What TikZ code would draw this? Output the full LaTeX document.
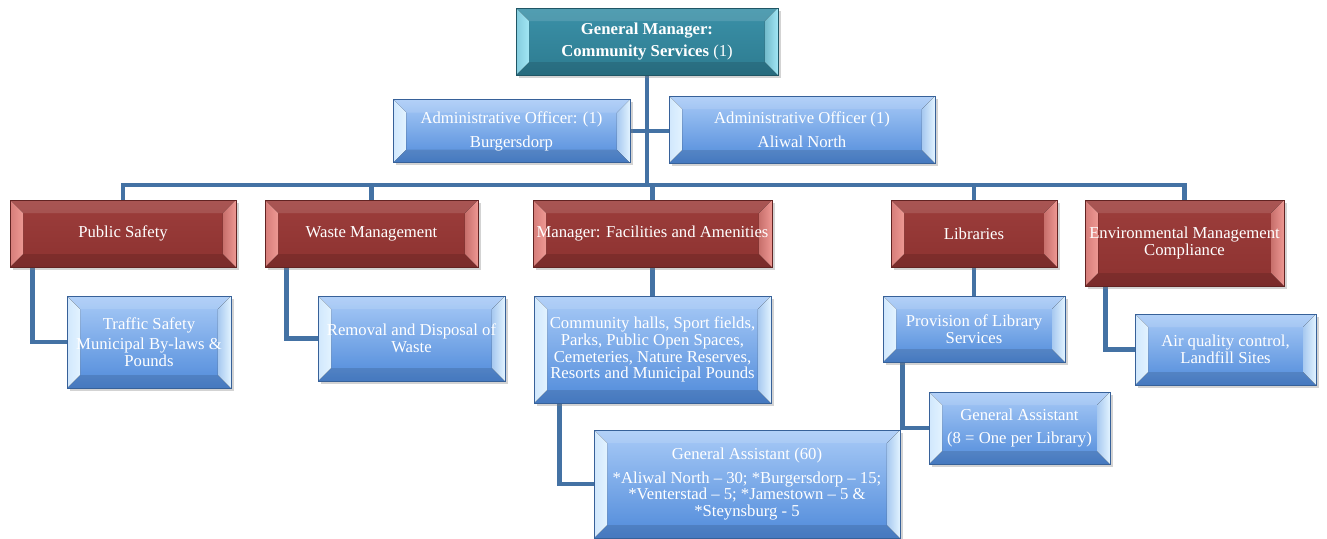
\documentclass[tikz,border=0pt]{standalone}
\usepackage{fontspec}
\setmainfont{Liberation Serif}
\usetikzlibrary{shadows,backgrounds}

\definecolor{linkblue}{HTML}{4472A4}
\definecolor{bluetop}{HTML}{A9CBF7}
\definecolor{bluebot}{HTML}{4F8ADA}
\definecolor{bluebev}{HTML}{E2F3FF}
\definecolor{redtop}{HTML}{9D3E3C}
\definecolor{redbot}{HTML}{8C3230}
\definecolor{redbev}{HTML}{EE9893}
\definecolor{tealtop}{HTML}{3B91A8}
\definecolor{tealbot}{HTML}{2D7B90}
\definecolor{tealbev}{HTML}{A2E6F4}

\newcommand\boxfont{\fontsize{9.5}{9.6}\selectfont}

\tikzset{
  orgbox/.style n args={3}{
    rectangle, draw=#2!70!black, line width=0.3pt,
    top color=#1, bottom color=#2,
    text=white, align=center, font=\boxfont, inner sep=1pt,
    drop shadow={shadow xshift=1.5pt, shadow yshift=-1.5pt, opacity=0.35},
    path picture={
      \fill[white, opacity=0.12] (path picture bounding box.north west) -- (path picture bounding box.north east)
        -- ([shift={(-0.26cm,-0.26cm)}]path picture bounding box.north east)
        -- ([shift={(0.26cm,-0.26cm)}]path picture bounding box.north west) -- cycle;
      \fill[black, opacity=0.12] (path picture bounding box.south west) -- (path picture bounding box.south east)
        -- ([shift={(-0.26cm,0.26cm)}]path picture bounding box.south east)
        -- ([shift={(0.26cm,0.26cm)}]path picture bounding box.south west) -- cycle;
      \fill[left color=#3!70!#1, right color=#3] (path picture bounding box.north west)
        -- ([shift={(0.26cm,-0.26cm)}]path picture bounding box.north west)
        -- ([shift={(0.26cm,0.26cm)}]path picture bounding box.south west)
        -- (path picture bounding box.south west) -- cycle;
      \fill[left color=#3!60!#2, right color=#3] (path picture bounding box.north east)
        -- ([shift={(-0.26cm,-0.26cm)}]path picture bounding box.north east)
        -- ([shift={(-0.26cm,0.26cm)}]path picture bounding box.south east)
        -- (path picture bounding box.south east) -- cycle;
    }},
  bluebox/.style={orgbox={bluetop}{bluebot}{bluebev}},
  redbox/.style={orgbox={redtop}{redbot}{redbev}},
  tealbox/.style={orgbox={tealtop}{tealbot}{tealbev}},
  link/.style={draw=linkblue, line width=2.8pt}
}

\begin{document}
\begin{tikzpicture}[x=0.02cm, y=-0.02cm]
\useasboundingbox (0,0) rectangle (1327,538);

% top of the chart
\node[tealbox, minimum width=5.24cm, minimum height=1.34cm] (gm) at (647,41.5)
  {\textbf{General Manager:}\\[3pt]\textbf{Community Services} (1)};
\node[bluebox, minimum width=4.74cm, minimum height=1.26cm] (aob) at (511.5,131)
  {Administrative Officer: (1)\\[4pt]Burgersdorp};
\node[bluebox, minimum width=5.32cm, minimum height=1.34cm] (aoa) at (802,129.5)
  {Administrative Officer (1)\\[4pt]Aliwal North};

% sections
\node[redbox, minimum width=4.52cm, minimum height=1.34cm] (ps) at (123,233.5) {Public Safety};
\node[redbox, minimum width=4.26cm, minimum height=1.34cm] (wm) at (371.5,233.5) {Waste Management};
\node[redbox, minimum width=4.78cm, minimum height=1.34cm] (mfa) at (652.5,233.5) {Manager: Facilities and Amenities};
\node[redbox, minimum width=3.32cm, minimum height=1.34cm] (lib) at (974,233.5) {Libraries};
\node[redbox, minimum width=3.98cm, minimum height=1.72cm] (emc) at (1184.5,243)
  {Environmental Management\\Compliance};

% units
\node[bluebox, minimum width=3.28cm, minimum height=1.84cm] (ts) at (149,342)
  {Traffic Safety\\[2pt]Municipal By-laws \&\\Pounds};
\node[bluebox, minimum width=3.74cm, minimum height=1.70cm] (rd) at (411.5,338.5)
  {Removal and Disposal of\\Waste};
\node[bluebox, minimum width=4.74cm, minimum height=2.14cm] (ch) at (652.5,349.5)
  {Community halls, Sport fields,\\Parks, Public Open Spaces,\\Cemeteries, Nature Reserves,\\Resorts and Municipal Pounds};
\node[bluebox, minimum width=6.12cm, minimum height=2.16cm] (gaf) at (747,484)
  {General Assistant (60)\\[4pt]{*}Aliwal North -- 30; {*}Burgersdorp -- 15;\\{*}Venterstad -- 5; {*}Jamestown -- 5 \&\\{*}Steynsburg - 5};
\node[bluebox, minimum width=3.64cm, minimum height=1.32cm] (pls) at (974,329)
  {Provision of Library\\Services};
\node[bluebox, minimum width=3.62cm, minimum height=1.44cm] (gal) at (1019.5,428)
  {General Assistant\\[4pt](8 = One per Library)};
\node[bluebox, minimum width=3.62cm, minimum height=1.42cm] (aq) at (1225.5,349.5)
  {Air quality control,\\Landfill Sites};

\begin{scope}[on background layer]
\coordinate (bus) at (647,185);
\draw[link] (gm.south) -- (gm.south |- bus);
\draw[link] (aob.east) -- (aob.east -| aoa.west);
\draw[link] (ps.north) -- (ps.north |- bus) -- (emc.north |- bus) -- (emc.north);
\foreach \n in {wm,mfa,lib}{
  \draw[link] (\n.north) -- (\n.north |- bus);
}
\draw[link] (mfa.south) -- (ch.north);
\draw[link] (lib.south) -- (pls.north);
\draw[link] ([xshift=0.46cm]ps.south west) |- (ts.west);
\draw[link] ([xshift=0.44cm]wm.south west) |- (rd.west);
\draw[link] ([xshift=0.52cm]ch.south west) |- (gaf.west);
\draw[link] ([xshift=0.40cm]pls.south west) |- (gal.west);
\draw[link] ([xshift=0.42cm]emc.south west) |- (aq.west);
\end{scope}
\end{tikzpicture}
\end{document}
